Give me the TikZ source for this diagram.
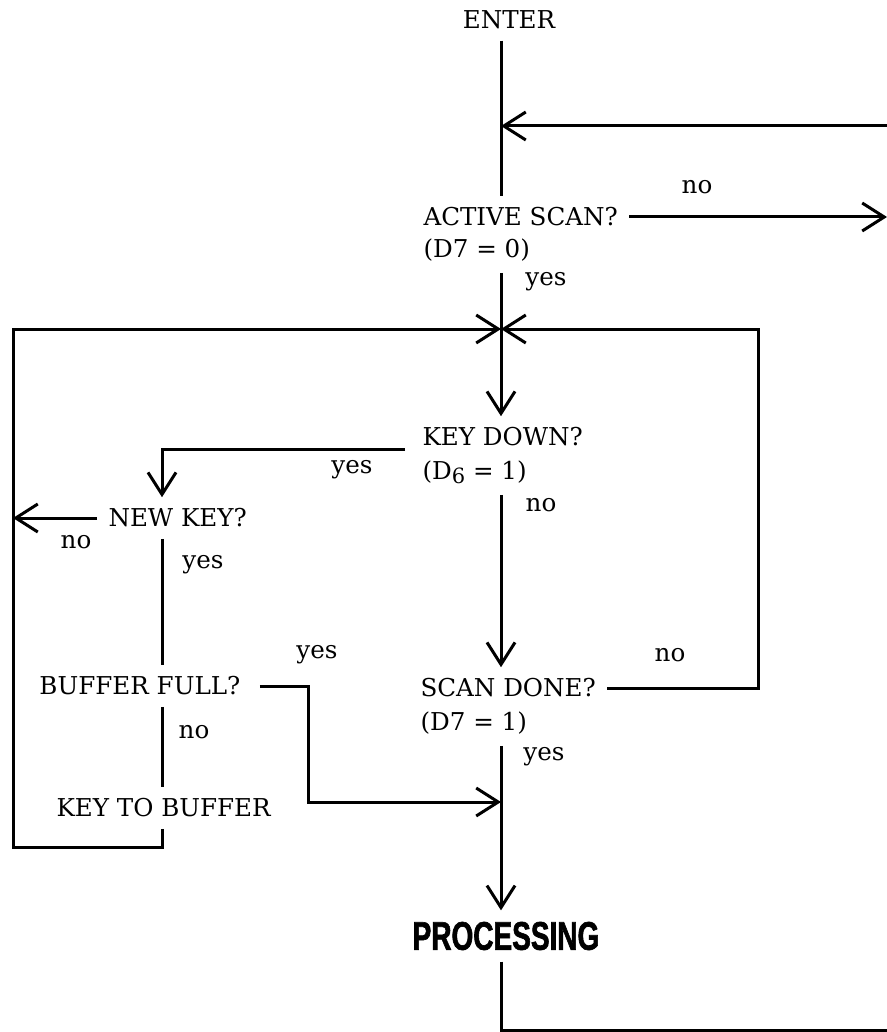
\documentclass[tikz,border=0pt]{standalone}
\usepackage{fontspec}
\setmainfont{DejaVu Serif}
\newfontfamily\procfont[FakeStretch=0.7,FakeBold=1.5]{Liberation Sans}
\usetikzlibrary{arrows.meta}

\begin{document}
\begin{tikzpicture}[x=0.5pt, y=-0.5pt, line width=1.5pt,
  every node/.style={font=\fontsize{12.3}{14}\selectfont},
  txt/.style={inner sep=5pt},
  lbl/.style={inner sep=1pt},
  arr/.style={-{Straight Barb[length=11pt,width=14pt]}}]
\useasboundingbox (0,0) rectangle (887,1032);

% steps
\node[txt] (enter) at (509,20) {ENTER};
\node[txt, anchor=west] (active) at (412,217) {ACTIVE SCAN?};
\node[txt, anchor=west] (activecond) at (412,250) {(D7 = 0)};
\node[txt, anchor=west] (keydown) at (411,437) {KEY DOWN?};
\node[txt, anchor=west] (keycond) at (411,472) {(D\raisebox{-0.3ex}{\fontsize{10.5}{12}\selectfont 6} = 1)};
\node[txt, anchor=west] (newkey) at (97,518) {NEW KEY?};
\node[txt, anchor=west] (buffull) at (28,686) {BUFFER FULL?};
\node[txt, anchor=west] (keybuf) at (45,808) {KEY TO BUFFER};
\node[txt, anchor=west] (scandone) at (409,688) {SCAN DONE?};
\node[txt, anchor=west] (scancond) at (409,723) {(D7 = 1)};
\node[txt, font=\fontsize{20}{24}\procfont\bfseries] (proc) at (506,936) {PROCESSING};

% yes / no
\node[lbl] (no1) at (697,187) {no};
\node[lbl] (yes1) at (546,282) {yes};
\node[lbl] (yes2) at (352,470) {yes};
\node[lbl] (no2) at (541,505) {no};
\node[lbl] (no3) at (76,542) {no};
\node[lbl] (yes3) at (203,565) {yes};
\node[lbl] (yes4) at (317,655) {yes};
\node[lbl] (no4) at (670,655) {no};
\node[lbl] (no5) at (194,732) {no};
\node[lbl] (yes5) at (544,757) {yes};

% junctions
\coordinate (cross) at (501,329);
\coordinate (back) at (501,126);
\coordinate (backin) at (887,126);
\coordinate (exitout) at (887,219);
\coordinate (lcol) at (162,0);
\coordinate (ltop) at (13,329);
\coordinate (lbot) at (13,847);
\coordinate (rloop) at (758,329);
\coordinate (jog) at (308,802);
\coordinate (merge) at (501,802);
\coordinate (outbot) at (887,1030);

\draw (enter.south -| cross) -- (active.north -| cross);
\draw[arr] (backin) -- (back);
\draw[arr] (active.east) -- (active.east -| exitout);
\draw (activecond.south -| cross) -- (cross);
\draw[arr] (cross) -- (keydown.north -| cross);
\draw[arr] ([shift={(-3pt,4pt)}]keydown.south west) -| (newkey.north -| lcol);
\draw[arr] (newkey.west) -- (newkey.west -| ltop);
\draw (newkey.south -| lcol) -- (buffull.north -| lcol);
\draw (buffull.south -| lcol) -- (keybuf.north -| lcol);
\draw[arr] (keybuf.south -| lcol) |- (lbot) -- (ltop) -- (cross);
\draw[arr, shorten <=4pt] (buffull.east) -| (jog) -- (merge);
\draw[arr] (keycond.south -| cross) -- (scandone.north -| cross);
\draw[arr] (scandone.east) -| (rloop) -- (cross);
\draw[arr] (scancond.south -| cross) -- (proc.north -| cross);
\draw (proc.south -| cross) |- (outbot);

\end{tikzpicture}
\end{document}
